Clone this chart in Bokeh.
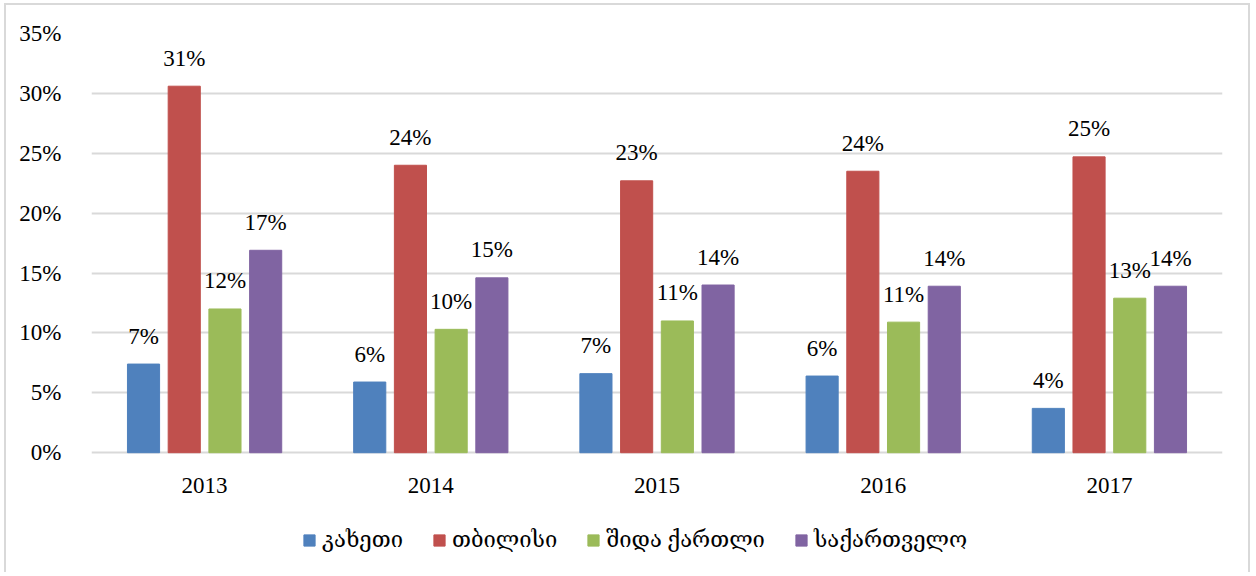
from bokeh.plotting import figure
from bokeh.models import (FactorRange, Range1d, FixedTicker, NumeralTickFormatter,
                          ColumnDataSource, Legend, LegendItem)
from bokeh.transform import dodge
from bokeh.core.properties import value
from bokeh.embed import file_html
from bokeh.resources import INLINE

years = ["2013", "2014", "2015", "2016", "2017"]
series = ["კახეთი", "თბილისი", "შიდა ქართლი", "საქართველო"]
kakheti = [0.074, 0.059, 0.066, 0.064, 0.037]
tbilisi = [0.306, 0.240, 0.227, 0.235, 0.247]
shida_kartli = [0.120, 0.103, 0.110, 0.109, 0.129]
georgia = [0.169, 0.146, 0.140, 0.139, 0.139]
y_ticks = [0.0, 0.05, 0.10, 0.15, 0.20, 0.25, 0.30, 0.35]
colors = ["#4f81bd", "#c0504d", "#9bbb59", "#8064a2"]

FONT = "Liberation Serif, DejaVu Serif, serif"
FS = "23px"

p = figure(x_range=FactorRange(*years, range_padding=0), y_range=Range1d(-0.09, 0.35),
           width=1246, height=569, output_backend="svg", toolbar_location=None,
           min_border_left=85, min_border_top=28, min_border_right=30, min_border_bottom=14)
p.styles = {"position": "absolute", "left": "4px", "top": "3px",
            "border-top": "2px solid #d9d9d9", "border-left": "2px solid #d9d9d9",
            "border-right": "2px solid #d9d9d9"}
p.outline_line_color = None
p.background_fill_color = "white"
p.border_fill_color = "white"

src = ColumnDataSource(dict(years=years, zero=[0.0] * len(years),
                            s0=kakheti, s1=tbilisi, s2=shida_kartli, s3=georgia,
                            l0=[f"{round(v*100):.0f}%" for v in kakheti],
                            l1=[f"{round(v*100):.0f}%" for v in tbilisi],
                            l2=[f"{round(v*100):.0f}%" for v in shida_kartli],
                            l3=[f"{round(v*100):.0f}%" for v in georgia]))

offsets = [-0.27, -0.09, 0.09, 0.27]
renderers = []
for i in range(4):
    r = p.vbar(x=dodge("years", offsets[i], range=p.x_range), top=f"s{i}", width=0.142,
               source=src, fill_color=colors[i], line_color=colors[i])
    renderers.append(r)
    p.text(x=dodge("years", offsets[i], range=p.x_range), y=f"s{i}", text=f"l{i}", source=src,
           text_align="center", text_baseline="middle", y_offset=-28,
           text_font=value(FONT), text_font_size=FS, text_color="#000000")

# category labels under the baseline
p.text(x="years", y="zero", text="years", source=src, text_align="center",
       text_baseline="middle", y_offset=33, text_font=value(FONT), text_font_size=FS,
       text_color="#000000")

p.xaxis.visible = False
p.yaxis.ticker = FixedTicker(ticks=y_ticks)
p.yaxis.formatter = NumeralTickFormatter(format="0%")
p.yaxis.axis_line_color = None
p.yaxis.major_tick_line_color = None
p.yaxis.minor_tick_line_color = None
p.yaxis.major_label_standoff = 24
p.yaxis.major_label_text_font = FONT
p.yaxis.major_label_text_font_size = FS
p.yaxis.major_label_text_color = "#000000"

p.xgrid.grid_line_color = None
p.ygrid.ticker = FixedTicker(ticks=y_ticks)
p.ygrid.grid_line_color = "#d9d9d9"
p.ygrid.grid_line_width = 2

legend = Legend(items=[LegendItem(label=series[i], renderers=[renderers[i]]) for i in range(4)],
                orientation="horizontal", location=(211, 7), padding=0, margin=0,
                border_line_color=None, background_fill_alpha=0,
                glyph_width=14, glyph_height=14, label_standoff=6, spacing=29,
                label_text_font=FONT, label_text_font_size="22px", label_text_color="#000000")
p.add_layout(legend, "center")

open("out.html", "w").write(file_html(p, INLINE))
